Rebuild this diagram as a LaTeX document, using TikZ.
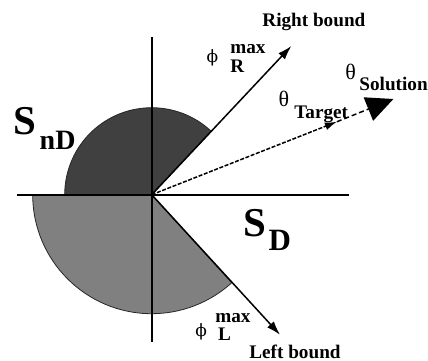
\documentclass[tikz,border=0pt]{standalone}
\usepackage{fontspec}
\setmainfont{Liberation Serif}
\newfontfamily\dvserif{DejaVu Serif}
\usetikzlibrary{arrows.meta}
\definecolor{sdark}{RGB}{64,64,64}
\definecolor{slight}{RGB}{128,128,128}
\begin{document}
\begin{tikzpicture}[x=0.5pt,y=0.5pt,
  lbl/.style={font=\fontsize{9.6}{10}\selectfont\bfseries, inner sep=0pt, anchor=base west},
  grk/.style={font=\fontsize{11}{12}\selectfont, inner sep=0pt},
  phis/.style={font=\fontsize{8.5}{10}\dvserif, inner sep=0pt},
  bigS/.style={font=\fontsize{20.5}{22}\selectfont\bfseries, inner sep=0pt, anchor=base west},
  arr/.style={line width=0.75pt, -{Latex[length=7pt,width=4.5pt]}},
  axisline/.style={line width=0.8pt},
  sector/.style={draw=black!85, line width=0.4pt}
]
\useasboundingbox (-151.7,-165.3) rectangle (276.3,194.7);
\coordinate (O) at (0,0);
% sectors
\filldraw[sector, fill=sdark] (O) -- (46.8:87) arc[start angle=46.8, end angle=180, radius=87] -- cycle;
\filldraw[sector, fill=slight] (O) -- (180:119) arc[start angle=180, end angle=312.3, radius=119] -- cycle;
% axes
\coordinate (vt) at (0,157.7);
\coordinate (vb) at (0,-147);
\coordinate (hl) at (-134.7,0);
\coordinate (hr) at (197.3,0);
\draw[axisline] (vt) -- (vb);
\draw[axisline] (hl) -- (hr);
% arrows
\coordinate (rb) at (46.8:204);
\coordinate (lb) at (-47.5:190);
\coordinate (tg) at (21.5:199);
\coordinate (sol) at (21.6:260);
\draw[arr] (O) -- (rb);
\draw[arr] (O) -- (lb);
\draw[line width=0.75pt, dash pattern=on 2pt off 0.8pt, -{Latex[length=6pt,width=4pt]}] (O) -- (tg);
\draw[line width=0.75pt, dash pattern=on 2.5pt off 1.5pt, -{Triangle[length=13.5pt,width=12.5pt]}] (tg) -- (sol);
% labels
\node[lbl] (rbl) at (110.3,168.7) {Right bound};
\node[phis] (phiR) at (60.8,137.2) {ϕ};
\node[lbl] (maxR) at (78.3,141.4) {max};
\node[lbl] (R) at (78.3,122) {R};
\node[grk] (thT) at (132.3,95.9) {θ};
\node[lbl] (tgl) at (142.3,76.4) {Target};
\node[grk] (thS) at (199,123) {θ};
\node[lbl] (soll) at (207.3,104) {Solution};
\node[phis] (phiL) at (49.5,-137) {ϕ};
\node[lbl] (maxL) at (63.3,-128) {max};
\node[lbl] (L) at (66,-146) {L};
\node[lbl] (lbl) at (97.3,-163.3) {Left bound};
\node[bigS] (S1) at (-139,60.7) {S};
\node[lbl, font=\fontsize{14}{16}\selectfont\bfseries] (nD) at (-112.4,45.4) {nD};
\node[bigS] (S2) at (91,-41.8) {S};
\node[lbl, font=\fontsize{15.5}{17}\selectfont\bfseries] (D) at (116.6,-55.3) {D};
\end{tikzpicture}
\end{document}
